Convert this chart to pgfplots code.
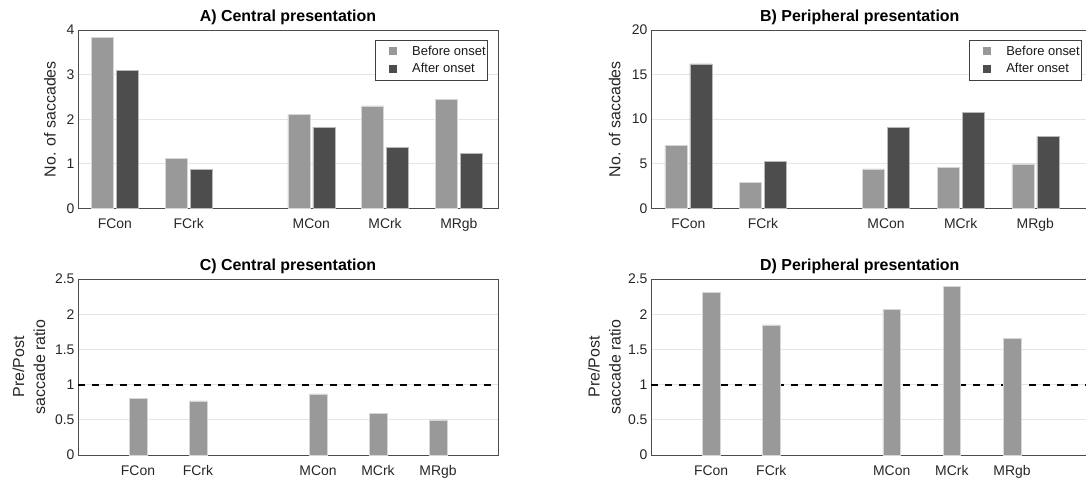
\documentclass[border=0pt]{standalone}
\usepackage{fontspec}
\setmainfont{Liberation Sans}
\usepackage{pgfplots}
\pgfplotsset{compat=1.18}
\definecolor{lightbar}{HTML}{999999}
\definecolor{darkbar}{HTML}{4D4D4D}
\pgfplotsset{
  myax/.style={
    scale only axis, anchor=south west,
    axis line style={draw=black!70, line width=0.8bp},
    major tick length=0pt,
    ymajorgrids, grid style={draw=black!10, line width=0.8bp},
    tick label style={font=\fontsize{14}{16}\selectfont, text=black!85},
    xticklabel style={yshift=-7bp},
    /pgf/number format/assume math mode=true,
    title style={font=\bfseries\fontsize{16}{18}\selectfont, yshift=-4bp},
    ylabel style={font=\fontsize{16}{21}\selectfont, text=black!85, anchor=center, align=center},
    ymin=0,
  },
  openright/.style={axis x line=box, axis y line=left, axis line style={-}},
  lbar/.style={ybar, fill=lightbar, draw=white!60!lightbar, line width=0.5bp, forget plot},
  dbar/.style={ybar, fill=darkbar, draw=white!60!darkbar, line width=0.5bp, forget plot},
  myleg/.style={
    legend style={at={(0.976,0.944)}, anchor=north east, draw=black!75, line width=0.6bp,
      font=\fontsize{13}{15}\selectfont, text=black!90, inner xsep=0bp, inner ysep=3.5bp,
      row sep=3bp},
    legend cell align=left,
  },
  leglight/.style={legend image code/.code={\path[draw=none,fill=none] (0bp,-5bp) rectangle (35bp,5bp); \fill[lightbar,draw=none] (14bp,-4bp) rectangle (22bp,4bp);}},
  legdark/.style={legend image code/.code={\path[draw=none,fill=none] (0bp,-5bp) rectangle (35bp,5bp); \fill[darkbar,draw=none] (14bp,-4bp) rectangle (22bp,4bp);}},
}
\begin{document}
\begin{tikzpicture}
\useasboundingbox (0bp,0bp) rectangle (1086bp,487bp);
% A
\begin{axis}[myax, myleg, at={(78bp,278.7bp)}, width=420bp, height=178.3bp,
  xmin=0.5, xmax=6.19, ymax=4, ytick={0,1,2,3,4},
  xtick={1,2,3.66,4.66,5.66}, xticklabels={FCon,FCrk,MCon,MCrk,MRgb},
  title={A) Central presentation},
  ylabel={No. of saccades}, ylabel style={at={(axis description cs:-0.0667,0.5)}}]
\addplot[lbar, bar width=22bp, bar shift=-12.5bp] coordinates {(1,3.84) (2,1.12) (3.66,2.10) (4.66,2.30) (5.66,2.44)};
\addplot[dbar, bar width=22bp, bar shift=12.5bp] coordinates {(1,3.10) (2,0.88) (3.66,1.82) (4.66,1.36) (5.66,1.23)};
\addlegendimage{leglight}
\addlegendimage{legdark}
\legend{Before onset, After onset}
\end{axis}
% B
\begin{axis}[myax, myleg, openright, at={(651bp,278.7bp)}, width=435bp, height=178.3bp,
  xmin=0.5, xmax=6.33, ymax=20, ytick={0,5,10,15,20},
  xtick={1,2,3.65,4.65,5.65}, xticklabels={FCon,FCrk,MCon,MCrk,MRgb},
  title={B) Peripheral presentation}, title style={at={(axis description cs:0.480,1)}},
  legend style={at={(0.991,0.944)}},
  ylabel={No. of saccades}, ylabel style={at={(axis description cs:-0.0834,0.5)}}]
\addplot[lbar, bar width=22bp, bar shift=-12.5bp] coordinates {(1,7.07) (2,2.88) (3.65,4.41) (4.65,4.56) (5.65,4.97)};
\addplot[dbar, bar width=22bp, bar shift=12.5bp] coordinates {(1,16.19) (2,5.23) (3.65,9.05) (4.65,10.77) (5.65,8.08)};
\addlegendimage{leglight}
\addlegendimage{legdark}
\legend{Before onset, After onset}
\end{axis}
% C
\begin{axis}[myax, at={(78bp,32bp)}, width=420bp, height=176bp,
  xmin=0, xmax=7, ymax=2.5, ytick={0,0.5,1,1.5,2,2.5},
  xtick={1,2,4,5,6}, xticklabels={FCon,FCrk,MCon,MCrk,MRgb},
  title={C) Central presentation},
  ylabel={Pre/Post\\saccade ratio}, ylabel style={at={(axis description cs:-0.1167,0.5)}}]
\addplot[black, line width=2bp, dash pattern=on 7bp off 7bp] coordinates {(0,1) (7,1)};
\addplot[lbar, bar width=17.5bp, bar shift=0bp] coordinates {(1,0.80) (2,0.77) (4,0.87) (5,0.59) (6,0.50)};
\end{axis}
% D
\begin{axis}[myax, openright, at={(651bp,32bp)}, width=435bp, height=176bp,
  xmin=0, xmax=7.23, ymax=2.5, ytick={0,0.5,1,1.5,2,2.5},
  xtick={1,2,4,5,6}, xticklabels={FCon,FCrk,MCon,MCrk,MRgb},
  title={D) Peripheral presentation}, title style={at={(axis description cs:0.480,1)}},
  ylabel={Pre/Post\\saccade ratio}, ylabel style={at={(axis description cs:-0.107,0.5)}}]
\addplot[black, line width=2bp, dash pattern=on 7bp off 7bp] coordinates {(0,1) (7.23,1)};
\addplot[lbar, bar width=17.5bp, bar shift=0bp] coordinates {(1,2.31) (2,1.85) (4,2.07) (5,2.40) (6,1.66)};
\end{axis}
\end{tikzpicture}
\end{document}
